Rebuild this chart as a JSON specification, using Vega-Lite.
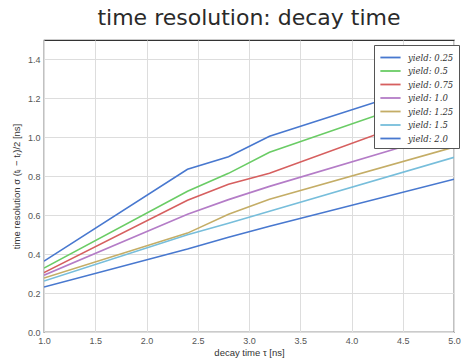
{
  "$schema": "https://vega.github.io/schema/vega-lite/v6.json",
  "width": 410,
  "height": 292,
  "padding": {"left": 44, "top": 40, "right": 9, "bottom": 28},
  "autosize": {"type": "none"},
  "background": "white",
  "title": {"text": "time resolution: decay time", "font": "DejaVu Sans", "fontSize": 22, "fontWeight": "normal", "color": "#2a2a2a", "offset": 10, "anchor": "middle"},
  "data": {"values": [
    {"tau": 1.0, "res": 0.364, "yield": "yield: 0.25", "k": 1},
    {"tau": 2.4, "res": 0.836, "yield": "yield: 0.25", "k": 1},
    {"tau": 2.8, "res": 0.900, "yield": "yield: 0.25", "k": 1},
    {"tau": 3.2, "res": 1.005, "yield": "yield: 0.25", "k": 1},
    {"tau": 5.0, "res": 1.310, "yield": "yield: 0.25", "k": 1},
    {"tau": 1.0, "res": 0.328, "yield": "yield: 0.5", "k": 2},
    {"tau": 2.4, "res": 0.723, "yield": "yield: 0.5", "k": 2},
    {"tau": 2.8, "res": 0.815, "yield": "yield: 0.5", "k": 2},
    {"tau": 3.2, "res": 0.923, "yield": "yield: 0.5", "k": 2},
    {"tau": 5.0, "res": 1.250, "yield": "yield: 0.5", "k": 2},
    {"tau": 1.0, "res": 0.305, "yield": "yield: 0.75", "k": 3},
    {"tau": 2.4, "res": 0.677, "yield": "yield: 0.75", "k": 3},
    {"tau": 2.8, "res": 0.759, "yield": "yield: 0.75", "k": 3},
    {"tau": 3.2, "res": 0.815, "yield": "yield: 0.75", "k": 3},
    {"tau": 5.0, "res": 1.160, "yield": "yield: 0.75", "k": 3},
    {"tau": 1.0, "res": 0.292, "yield": "yield: 1.0", "k": 4},
    {"tau": 2.4, "res": 0.605, "yield": "yield: 1.0", "k": 4},
    {"tau": 2.8, "res": 0.680, "yield": "yield: 1.0", "k": 4},
    {"tau": 3.2, "res": 0.748, "yield": "yield: 1.0", "k": 4},
    {"tau": 5.0, "res": 1.030, "yield": "yield: 1.0", "k": 4},
    {"tau": 1.0, "res": 0.277, "yield": "yield: 1.25", "k": 5},
    {"tau": 2.4, "res": 0.508, "yield": "yield: 1.25", "k": 5},
    {"tau": 2.8, "res": 0.605, "yield": "yield: 1.25", "k": 5},
    {"tau": 3.2, "res": 0.682, "yield": "yield: 1.25", "k": 5},
    {"tau": 5.0, "res": 0.950, "yield": "yield: 1.25", "k": 5},
    {"tau": 1.0, "res": 0.262, "yield": "yield: 1.5", "k": 6},
    {"tau": 2.4, "res": 0.500, "yield": "yield: 1.5", "k": 6},
    {"tau": 2.8, "res": 0.559, "yield": "yield: 1.5", "k": 6},
    {"tau": 3.2, "res": 0.620, "yield": "yield: 1.5", "k": 6},
    {"tau": 5.0, "res": 0.897, "yield": "yield: 1.5", "k": 6},
    {"tau": 1.0, "res": 0.231, "yield": "yield: 2.0", "k": 7},
    {"tau": 2.4, "res": 0.426, "yield": "yield: 2.0", "k": 7},
    {"tau": 2.8, "res": 0.487, "yield": "yield: 2.0", "k": 7},
    {"tau": 3.2, "res": 0.543, "yield": "yield: 2.0", "k": 7},
    {"tau": 5.0, "res": 0.785, "yield": "yield: 2.0", "k": 7}
  ]},
  "mark": {"type": "line", "strokeWidth": 1.6, "clip": true},
  "encoding": {
    "x": {"field": "tau", "type": "quantitative", "scale": {"domain": [1.0, 5.0], "nice": false},
      "axis": {"title": "decay time τ [ns]", "values": [1.0,1.5,2.0,2.5,3.0,3.5,4.0,4.5,5.0], "format": ".1f", "titlePadding": 2, "labelFlush": false}},
    "y": {"field": "res", "type": "quantitative", "scale": {"domain": [0, 1.5], "nice": false},
      "axis": {"title": "time resolution σ (tₗ − tᵣ)/2 [ns]", "values": [0,0.2,0.4,0.6,0.8,1.0,1.2,1.4], "format": ".1f", "titlePadding": 6, "labelFlush": false}},
    "color": {"field": "yield", "type": "nominal",
      "sort": ["yield: 0.25","yield: 0.5","yield: 0.75","yield: 1.0","yield: 1.25","yield: 1.5","yield: 2.0"],
      "scale": {"domain": ["yield: 0.25","yield: 0.5","yield: 0.75","yield: 1.0","yield: 1.25","yield: 1.5","yield: 2.0"],
        "range": ["#4878CF","#6ACC65","#D65F5F","#B47CC7","#C4AD66","#77BEDB","#4878CF"]},
      "legend": {"title": null, "orient": "none", "legendX": 330, "legendY": 5,
        "symbolType": "M-1,0L2.3,0", "symbolSize": 150, "symbolStrokeWidth": 1.8, "labelOffset": 14,
        "labelFont": "DejaVu Serif", "labelFontStyle": "italic", "labelFontSize": 8.5, "labelColor": "#333333", "rowPadding": 1.5,
        "fillColor": "white", "strokeColor": "#555555", "padding": 5, "cornerRadius": 0}
    },
    "detail": {"field": "k"}
  },
  "config": {
    "view": {"stroke": "#333333", "strokeWidth": 1.2},
    "axis": {"grid": true, "gridColor": "#dddddd", "gridWidth": 1, "domain": false, "ticks": false,
      "labelFont": "Liberation Sans", "labelFontSize": 9, "labelColor": "#555555", "labelPadding": 4,
      "titleFont": "Liberation Sans", "titleFontSize": 9.5, "titleFontWeight": "normal", "titleColor": "#333333"}
  }
}
